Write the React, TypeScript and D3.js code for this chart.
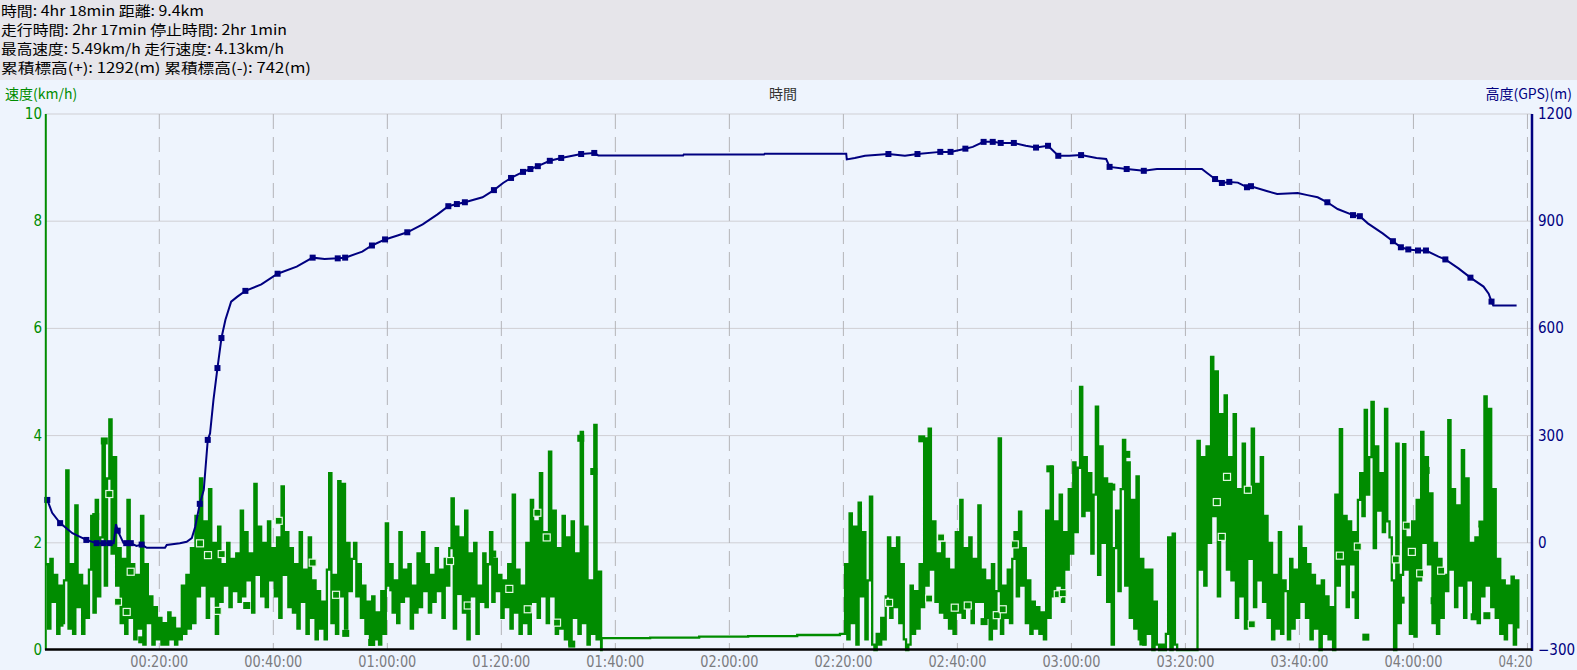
import React from 'react';
import * as d3 from 'd3';

// ---------------- DATA ----------------
const headerLines = [
  '時間: 4hr 18min  距離: 9.4km',
  '走行時間: 2hr 17min  停止時間: 2hr 1min',
  '最高速度: 5.49km/h  走行速度: 4.13km/h',
  '累積標高(+): 1292(m)  累積標高(-): 742(m)',
];
const leftTitle = '速度(km/h)';
const centerTitle = '時間';
const rightTitle = '高度(GPS)(m)';

const timeTickMinutes = [20, 40, 60, 80, 100, 120, 140, 160, 180, 200, 220, 240, 260];
const timeTickLabels = ['00:20:00', '00:40:00', '01:00:00', '01:20:00', '01:40:00', '02:00:00', '02:20:00',
  '02:40:00', '03:00:00', '03:20:00', '03:40:00', '04:00:00', '04:20:00'];
const speedTicks = [0, 2, 4, 6, 8, 10];
const altTicks = [-300, 0, 300, 600, 900, 1200];

// moving segment 1 (minutes 0.1 .. 97.5), km/h
const seg1Range = [0.1, 97.5];
const speedSeg1 = [
  1.6, 0.4, 1.7, 0.9, 1.4, 0.3, 1.2, 0.5, 1.3, 3.35, 0.4, 1.6, 0.3, 2.7, 0.8, 1.4,
  0.3, 1.2, 0.6, 1.5, 2.5, 0.7, 2.8, 1.0, 2.1, 3.9, 1.2, 3.2, 4.3, 1.8, 3.6, 1.2,
  1.9, 0.5, 1.7, 0.3, 2.8, 0.6, 1.6, 0.2, 1.4, 0.4, 2.5, 0.1, 1.6, 0.5, 1.0, 0.1,
  0.8, 0.2, 0.6, 0.1, 0.5, 0.1, 0.7, 0.2, 0.6, 0.1, 0.4, 0.2, 1.2, 0.3, 1.4, 0.4,
  1.9, 0.5, 2.5, 1.0, 3.2, 1.2, 2.4, 0.6, 3.0, 1.0, 2.0, 0.3, 2.3, 0.9, 1.6, 1.2,
  2.0, 0.8, 1.7, 1.1, 1.8, 0.9, 2.6, 1.0, 2.2, 1.3, 1.8, 0.7, 3.1, 1.4, 2.3, 1.0,
  2.0, 0.8, 2.4, 1.3, 1.9, 1.0, 2.1, 0.6, 3.05, 1.4, 2.2, 0.8, 1.9, 0.7, 1.6, 0.4,
  2.2, 0.9, 1.5, 0.3, 2.1, 0.6, 1.3, 0.2, 1.1, 0.4, 0.9, 0.2, 1.5, 3.3, 0.5, 1.4,
  0.3, 3.15, 1.0, 3.1, 0.4, 2.0, 1.1, 1.7, 2.0, 1.0, 1.6, 0.6, 1.2, 0.3, 0.9, 0.1,
  1.0, 0.2, 0.7, 0.1, 1.1, 0.3, 2.36, 1.2, 1.6, 0.7, 1.3, 0.5, 2.2, 0.9, 1.5, 1.0,
  1.6, 0.4, 1.2, 0.7, 1.8, 0.8, 2.2, 1.1, 1.6, 0.7, 1.4, 0.9, 1.9, 1.1, 1.5, 0.6,
  1.7, 1.2, 1.9, 2.83, 0.4, 2.3, 1.1, 2.1, 0.7, 2.6, 0.2, 1.8, 1.0, 2.0, 0.3, 1.2,
  0.9, 1.8, 0.8, 1.6, 2.2, 0.9, 1.7, 1.1, 1.4, 0.6, 1.3, 0.8, 1.6, 0.4, 2.9, 0.7,
  1.5, 0.3, 1.2, 0.5, 2.0, 0.3, 2.8, 0.9, 2.4, 0.6, 3.3, 1.0, 2.2, 0.5, 3.7, 1.0,
  2.6, 0.3, 1.9, 0.4, 2.5, 0.2, 2.1, 0.1, 2.4, 0.6, 1.8, 0.3, 4.07, 0.5, 2.3, 0.1,
  1.3, 0.3, 4.2, 0.2, 1.46, 0.0,
];

// stopped period samples
const stopMinutes = [97.6, 106.1, 114.7, 123.3, 131.9, 139.4];
const stopSpeeds = [0.22, 0.23, 0.25, 0.26, 0.28, 0.30];

// moving segment 2 (minutes 139.9 .. 258.4), km/h
const seg2Range = [139.9, 258.4];
const speedSeg2 = [
  0.3, 1.6, 0.2, 2.55, 0.5, 2.3, 0.1, 2.75, 1.0, 2.2, 0.2, 1.3, 2.86, 0.1, 0.0, 0.3,
  0.1, 0.6, 0.2, 1.0, 2.1, 0.6, 1.9, 0.8, 2.1, 0.5, 1.6, 0.2, 0.0, 0.1, 1.2, 0.3,
  1.1, 0.4, 1.6, 0.8, 3.95, 1.2, 4.13, 1.5, 2.4, 0.9, 1.8, 0.7, 2.0, 0.6, 1.7, 0.4,
  1.5, 0.3, 2.2, 0.7, 2.8, 0.6, 1.9, 0.8, 2.1, 0.5, 1.7, 0.9, 2.7, 0.9, 1.5, 0.6,
  1.3, 0.2, 1.6, 0.4, 1.1, 3.95, 0.3, 1.2, 0.6, 1.5, 0.5, 1.7, 2.2, 1.0, 2.58, 1.2,
  1.9, 0.5, 1.3, 0.3, 0.9, 0.4, 0.8, 0.3, 0.7, 0.2, 2.6, 0.6, 3.42, 1.0, 2.4, 1.2,
  2.9, 0.9, 2.2, 1.5, 3.0, 1.8, 3.5, 2.2, 3.4, 4.91, 2.5, 3.6, 2.6, 3.3, 1.8, 2.9,
  4.54, 1.4, 3.8, 2.0, 3.2, 0.9, 3.1, 0.1, 1.9, 2.6, 1.1, 3.0, 3.92, 1.2, 3.5, 0.6,
  2.8, 0.4, 3.24, 0.2, 1.7, 0.1, 1.5, 0.3, 1.5, 0.0, 0.9, 0.1, 0.0, 0.1, 0.0, 0.3,
  2.1, 0.0, 2.17, 0.1, 0.0, 0.0, 0.0, 0.0, 0.0, 0.0, 0.0, 0.0, 0.0, 3.9, 1.5, 3.6,
  1.2, 3.8, 2.0, 5.47, 2.5, 5.2, 1.0, 4.4, 2.2, 4.75, 1.5, 3.6, 1.3, 4.4, 0.6, 3.0,
  1.0, 3.85, 0.4, 2.9, 1.7, 4.13, 0.8, 3.1, 1.3, 3.6, 0.9, 2.5, 0.6, 2.0, 0.2, 1.4,
  0.4, 2.2, 0.3, 1.3, 1.1, 0.2, 1.7, 0.4, 1.5, 0.6, 2.3, 0.9, 1.9, 0.6, 1.6, 0.2,
  1.4, 0.4, 1.2, 0.0, 1.3, 0.3, 1.0, 0.2, 0.8, 0.0, 2.9, 1.2, 4.12, 1.6, 2.5, 0.8,
  2.4, 1.6, 2.2, 0.6, 2.8, 3.3, 2.5, 4.48, 2.9, 3.6, 4.63, 1.9, 3.8, 2.6, 3.3, 2.2,
  4.5, 2.4, 2.1, 1.3, 0.0, 3.85, 0.5, 1.4, 3.84, 1.5, 2.1, 0.3, 2.4, 0.25, 2.8, 1.3,
  4.07, 2.0, 3.6, 1.6, 2.92, 0.5, 2.0, 0.3, 1.7, 0.6, 1.4, 1.1, 4.29, 1.5, 3.0, 0.8,
  2.7, 1.2, 3.73, 0.6, 3.2, 1.3, 2.0, 0.6, 2.1, 0.5, 2.3, 1.0, 4.73, 1.2, 4.5, 0.8,
  3.0, 0.6, 1.7, 0.3, 1.3, 0.2, 1.2, 0.5, 1.37, 0.1, 1.3, 0.4,
];

// speed markers [minute, km/h]
const speedMarksFilled = [
  [2.58, 0.5], [8.84, 2.49], [10.35, 3.9], [16.91, 0.19], [35.33, 0.83], [52.7, 0.31],
  [57.26, 0.14], [60.95, 1.16], [72.75, 1.09], [78.49, 1.79], [92.35, 0.11], [93.93, 3.95],
  [96.21, 3.33], [153.75, 3.94], [164.68, 0.53], [176.21, 3.38], [187.09, 3.04], [189.72, 3.65],
  [192.53, 0.15], [208.54, 1.71], [210.35, 1.26], [229.77, 1.03], [231.65, 0.24], [237.84, 0.93],
  [242.23, 3.35], [243.63, 0.92], [250.65, 0.62], [252.0, 2.35], [252.88, 0.64],
];
const speedMarksHollow = [
  [11.23, 2.91], [12.75, 0.9], [14.28, 0.71], [14.98, 1.46], [27.14, 1.99], [28.54, 1.77],
  [30.95, 1.79], [30.25, 0.73], [40.95, 2.41], [46.91, 1.63], [51.0, 1.03], [71.0, 1.66],
  [74.1, 0.83], [81.4, 1.14], [84.63, 0.76], [86.32, 2.56], [87.96, 2.1], [89.77, 0.51],
  [148.02, 0.88], [155.04, 0.96], [157.14, 2.1], [159.54, 0.79], [161.82, 0.83], [166.91, 0.65],
  [167.96, 0.76], [170.07, 1.97], [177.61, 1.04], [178.49, 1.06], [205.51, 2.76], [207.3, 3.23],
  [206.38, 2.11], [210.95, 2.99], [211.65, 0.48], [227.09, 1.76], [230.25, 1.93], [236.91, 1.69],
  [238.84, 2.32], [239.72, 1.83], [241.18, 1.43], [244.86, 1.48],
];

// altitude [minute, metres, marker]
const altitude = [
  [0.35, 120, 1], [1.2, 84, 0], [2.6, 55, 1], [4.75, 27, 0], [7.2, 8, 1], [9.0, -1, 1], [10.2, -1, 1],
  [11.3, -1, 1], [12.0, -1, 0], [12.4, 52, 0], [12.7, 34, 1], [13.7, 0, 0], [14.2, -1, 1], [15.0, -1, 1],
  [16.0, -9, 0], [16.9, -5, 1], [17.8, -14, 0], [21.0, -14, 0], [21.3, -6, 0], [23.6, -1, 0],
  [24.8, 3, 0], [25.7, 13, 0], [26.3, 45, 0], [27.1, 109, 1], [27.8, 148, 0], [28.5, 288, 1],
  [28.9, 306, 0], [29.5, 400, 0], [30.2, 489, 1], [30.9, 573, 1], [31.6, 624, 0], [32.6, 675, 0],
  [33.7, 689, 0], [35.1, 705, 1], [37.9, 723, 0], [40.75, 753, 1], [44.1, 773, 0], [46.9, 798, 1],
  [49.0, 794, 0], [51.3, 796, 1], [52.6, 798, 1], [55.6, 815, 0], [57.3, 832, 1], [59.6, 849, 1],
  [61.8, 860, 0], [63.5, 869, 1], [66.2, 891, 0], [68.8, 919, 0], [70.7, 942, 1], [72.2, 948, 1],
  [73.6, 953, 1], [76.7, 967, 0], [78.7, 987, 1], [80.3, 1007, 0], [81.7, 1021, 1], [83.8, 1038, 1],
  [85.1, 1046, 1], [86.4, 1054, 1], [88.5, 1069, 1], [90.5, 1077, 1], [94.0, 1088, 1], [96.3, 1091, 1],
  [97.0, 1084, 0], [111.9, 1084, 0], [112.0, 1087, 0], [126.1, 1087, 0], [126.2, 1089, 0],
  [140.5, 1089, 0], [140.6, 1073, 0], [142.0, 1077, 0], [143.8, 1083, 0], [147.9, 1088, 1],
  [150.8, 1083, 0], [153.0, 1088, 1], [157.0, 1094, 1], [158.8, 1094, 1], [161.4, 1103, 1],
  [162.7, 1108, 0], [164.6, 1122, 1], [166.2, 1122, 1], [167.6, 1119, 1], [169.9, 1119, 1],
  [172.0, 1111, 0], [173.8, 1106, 1], [175.9, 1111, 1], [177.7, 1083, 1], [179.6, 1083, 0],
  [181.7, 1085, 1], [184.4, 1077, 0], [186.1, 1074, 0], [186.7, 1052, 1], [189.7, 1046, 1],
  [192.7, 1041, 1], [195.0, 1046, 0], [202.9, 1046, 0], [203.8, 1035, 0], [205.2, 1018, 1],
  [206.4, 1007, 1], [207.7, 1010, 1], [209.2, 1008, 0], [210.8, 995, 1], [211.5, 998, 1],
  [214.4, 984, 0], [216.1, 976, 0], [219.7, 979, 0], [221.4, 973, 0], [223.2, 967, 0],
  [224.9, 953, 1], [226.7, 934, 0], [229.4, 917, 1], [230.6, 914, 1], [232.0, 894, 0],
  [234.6, 866, 0], [236.4, 844, 1], [237.8, 827, 1], [239.1, 821, 1], [240.8, 818, 1],
  [242.2, 818, 1], [244.4, 801, 0], [245.6, 793, 1], [247.9, 768, 0], [250.0, 742, 1],
  [252.3, 717, 0], [253.2, 697, 0], [253.7, 675, 1], [254.0, 664, 0], [258.1, 664, 0],
];

// ---------------- CHART ----------------
const W = 1577;
const H = 670;
const X0 = 45.3, X1 = 1532, YT = 114, YB = 650;
const GREEN = '#008c00';
const NAVY = '#000080';
const CJK = "'Noto Sans CJK JP', 'Noto Sans', sans-serif";
const NARROW = "'Liberation Sans Narrow', 'DejaVu Sans Condensed', 'Liberation Sans', sans-serif";

function spread(range: number[], values: number[]) {
  const n = values.length;
  return values.map((v, i) => ({ t: range[0] + (i * (range[1] - range[0])) / (n - 1), v }));
}

export default function App() {
  const x = d3.scaleLinear().domain([0, 260.8]).range([X0, X1]);
  const yS = d3.scaleLinear().domain([0, 10]).range([YB, YT]);
  const yA = d3.scaleLinear().domain([-300, 1200]).range([YB, YT]);

  const speedPts = [
    ...spread(seg1Range, speedSeg1),
    ...stopMinutes.map((t, i) => ({ t, v: stopSpeeds[i] })),
    ...spread(seg2Range, speedSeg2),
  ];
  const stepLine = d3.line<{ t: number; v: number }>()
    .x((d) => x(d.t))
    .y((d) => yS(d.v))
    .curve(d3.curveStepAfter);
  const altLine = d3.line<number[]>()
    .x((d) => x(d[0]))
    .y((d) => yA(d[1]));

  const headerWidths = [203, 286, 283, 310];
  const ms = 7;
  const lastTick = timeTickMinutes.length - 1;

  return (
    <svg width={W} height={H} style={{ position: 'absolute', left: 0, top: 0 }}>
      <rect x={0} y={0} width={W} height={H} fill="#eef4fd" />
      <rect x={0} y={0} width={W} height={80} fill="#e6e5ea" />
      {headerLines.map((s, i) => (
        <text key={i} x={1} y={15.5 + i * 19.3} fontFamily={CJK} fontSize={14} fill="#000"
          textLength={headerWidths[i]} lengthAdjust="spacingAndGlyphs">{s}</text>
      ))}
      <text x={5} y={99} fontFamily={CJK} fontSize={14} fill={GREEN}>{leftTitle}</text>
      <text x={783} y={99} fontFamily={CJK} fontSize={14} fill="#333" textAnchor="middle">{centerTitle}</text>
      <text x={1572} y={99} fontFamily={CJK} fontSize={14} fill={NAVY} textAnchor="end">{rightTitle}</text>

      {/* horizontal grid */}
      {speedTicks.filter((v) => v > 0).map((v) => (
        <line key={'h' + v} x1={X0} x2={X1} y1={yS(v)} y2={yS(v)} stroke="#cfcfd4" strokeWidth={1} />
      ))}
      {/* vertical dashed grid */}
      {timeTickMinutes.map((m) => (
        <line key={'v' + m} x1={x(m)} x2={x(m)} y1={YT} y2={YB} stroke="#b4b4b8" strokeWidth={1}
          strokeDasharray="15 8" />
      ))}

      {/* speed line */}
      <path d={stepLine(speedPts) || ''} fill="none" stroke={GREEN} strokeWidth={2.3} />
      {speedMarksFilled.map((d, i) => (
        <rect key={'sf' + i} x={x(d[0]) - ms / 2} y={yS(d[1]) - ms / 2} width={ms} height={ms} fill={GREEN} />
      ))}
      {speedMarksHollow.map((d, i) => (
        <rect key={'sh' + i} x={x(d[0]) - ms / 2} y={yS(d[1]) - ms / 2} width={ms} height={ms}
          fill={GREEN} stroke="#e4f8e4" strokeWidth={1.2} />
      ))}

      {/* altitude */}
      <path d={altLine(altitude) || ''} fill="none" stroke={NAVY} strokeWidth={2} />
      {altitude.filter((d) => d[2] === 1).map((d, i) => (
        <rect key={'a' + i} x={x(d[0]) - 3} y={yA(d[1]) - 3} width={6} height={6} fill={NAVY} />
      ))}

      {/* axes */}
      <line x1={45.8} x2={45.8} y1={YT} y2={YB} stroke={GREEN} strokeWidth={2} />
      <line x1={X1} x2={X1} y1={YT} y2={YB + 1} stroke={NAVY} strokeWidth={2.5} />
      <line x1={45} x2={X1} y1={649.5} y2={649.5} stroke="#000" strokeWidth={2.5} />

      {speedTicks.map((v) => (
        <text key={'sl' + v} x={42} y={yS(v) + 5} fontFamily={NARROW} fontSize={15} fill={GREEN}
          textAnchor="end">{v}</text>
      ))}
      {altTicks.map((v) => (
        <text key={'al' + v} x={1538} y={yA(v) + 5} fontFamily={NARROW} fontSize={15} fill={NAVY}>
          {v === -300 ? '−300' : v}
        </text>
      ))}
      {timeTickMinutes.map((m, i) => (
        i < lastTick ? (
          <text key={'tl' + m} x={x(m)} y={667} fontFamily={NARROW} fontSize={15} fill="#7c7c80"
            textAnchor="middle" textLength={58} lengthAdjust="spacingAndGlyphs">{timeTickLabels[i]}</text>
        ) : (
          <text key={'tl' + m} x={x(m) - 29} y={667} fontFamily={NARROW} fontSize={15} fill="#7c7c80"
            textLength={34} lengthAdjust="spacingAndGlyphs">{timeTickLabels[i].slice(0, 5)}</text>
        )
      ))}
    </svg>
  );
}
